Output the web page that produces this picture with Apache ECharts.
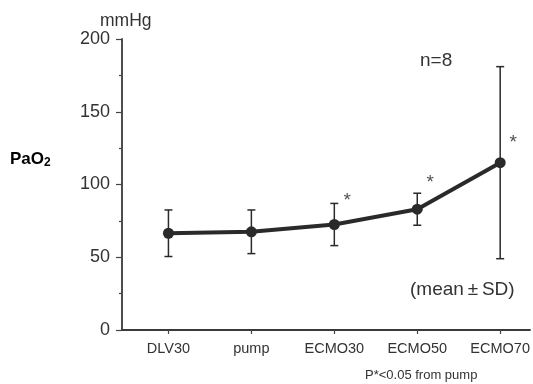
<!DOCTYPE html>
<html><head><meta charset="utf-8">
<script src="https://cdn.jsdelivr.net/npm/echarts@6/dist/echarts.min.js"></script>
<style>html,body{margin:0;padding:0;background:#fff}#c{width:533px;height:384px}</style>
</head><body><div id="c"></div>
<script>
const categories = ['DLV30', 'pump', 'ECMO30', 'ECMO50', 'ECMO70'];
const meanValues = [66.5, 67.5, 72.5, 83, 115];
const sdValues = [16, 15, 14.5, 11, 66];
const sigIndex = [2, 3, 4];
const sigLabelY = [89, 101, 129];
const yTicks = [0, 50, 100, 150, 200];

const chart = echarts.init(document.getElementById('c'), null, {renderer: 'canvas'});
const font = '"Liberation Sans", Arial, sans-serif';
const ink = '#2a2a2a';

const lineData = categories.map((c, i) => [i, meanValues[i]]);
const errData = categories.map((c, i) => [i, meanValues[i] - sdValues[i], meanValues[i] + sdValues[i]]);
const sigData = sigIndex.map((idx, k) => [idx, sigLabelY[k]]);

chart.setOption({
  animation: false,
  backgroundColor: '#fff',
  grid: {left: 122, right: 0, top: 39, bottom: 54, containLabel: false},
  xAxis: {
    type: 'value', min: -0.56, max: 4.36,
    axisLine: {show: true, onZero: false, lineStyle: {color: '#3a3a3a', width: 1.8}},
    axisTick: {show: true, length: 4, customValues: categories.map((c, i) => i), lineStyle: {color: '#444', width: 1.2}},
    axisLabel: {customValues: categories.map((c, i) => i), formatter: v => categories[Math.round(v)] || '',
      color: '#333', fontSize: 14.5, fontFamily: font, margin: 11},
    splitLine: {show: false}
  },
  yAxis: {
    type: 'value', min: 0, max: 200, interval: 50,
    axisLine: {show: true, onZero: false, lineStyle: {color: '#3a3a3a', width: 1.8}},
    axisTick: {show: true, length: 6, lineStyle: {color: '#444', width: 1.2}},
    minorTick: {show: true, splitNumber: 2, length: 3, lineStyle: {color: '#444', width: 1.2}},
    axisLabel: {color: '#333', fontSize: 18, fontFamily: font, margin: 12,
      formatter: v => yTicks.includes(v) ? String(v) : ''},
    splitLine: {show: false}
  },
  graphic: [
    {type: 'text', left: 100, top: 12, style: {text: 'mmHg', fontSize: 17.5, fontFamily: font, fill: '#333'}},
    {type: 'text', left: 10, top: 151, style: {
      text: '{a|PaO}{b|2}', rich: {
        a: {fontSize: 17, fontWeight: 'bold', fontFamily: font, color: '#222'},
        b: {fontSize: 12, fontWeight: 'bold', fontFamily: font, color: '#222', padding: [6, 0, 0, 0]}
      }}},
    {type: 'text', left: 420, top: 51, style: {text: 'n=8', fontSize: 19, fontFamily: font, fill: '#333'}},
    {type: 'text', left: 410, top: 280, style: {text: '(mean\u2009\u00b1\u2009SD)', fontSize: 19, fontFamily: font, fill: '#333'}},
    {type: 'text', left: 365, top: 369, style: {text: 'P*<0.05 from pump', fontSize: 13, fontFamily: font, fill: '#333'}}
  ],
  series: [
    {
      type: 'custom', z: 2,
      renderItem: function (params, api) {
        const x = api.coord([api.value(0), api.value(1)])[0];
        const lo = api.coord([api.value(0), api.value(1)])[1];
        const hi = api.coord([api.value(0), api.value(2)])[1];
        const cap = 4;
        const st = {stroke: ink, lineWidth: 1.5};
        return {type: 'group', children: [
          {type: 'line', shape: {x1: x, y1: lo, x2: x, y2: hi}, style: st},
          {type: 'line', shape: {x1: x - cap, y1: lo, x2: x + cap, y2: lo}, style: st},
          {type: 'line', shape: {x1: x - cap, y1: hi, x2: x + cap, y2: hi}, style: st}
        ]};
      },
      encode: {x: 0, y: [1, 2]},
      data: errData
    },
    {
      type: 'line', z: 3, data: lineData,
      symbol: 'circle', symbolSize: 11,
      lineStyle: {color: ink, width: 4},
      itemStyle: {color: ink}
    },
    {
      type: 'scatter', z: 4, data: sigData,
      symbolSize: 1, itemStyle: {color: 'rgba(0,0,0,0)'},
      label: {show: true, position: 'inside', offset: [13, 0], formatter: '*',
        fontSize: 19, fontFamily: font, color: '#222'}
    }
  ]
});
</script></body></html>
